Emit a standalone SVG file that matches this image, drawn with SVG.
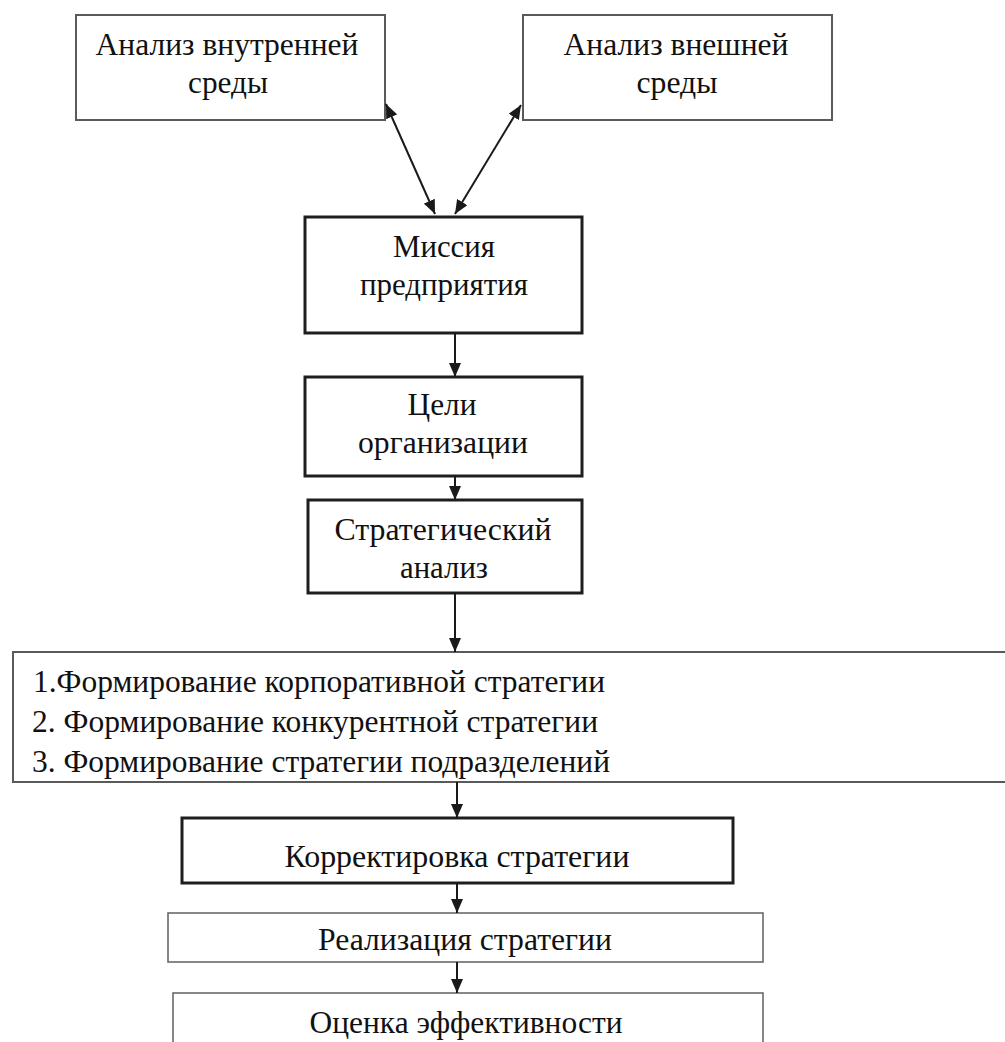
<svg xmlns="http://www.w3.org/2000/svg" width="1005" height="1042" viewBox="0 0 1005 1042">
<style>
  .bg { fill: #ffffff; }
  .box { fill: #ffffff; stroke: #5a5a5a; stroke-width: 2; }
  .dark { fill: #ffffff; stroke: #1e1e1e; stroke-width: 3; }
  .thin { fill: #ffffff; stroke: #6a6a6a; stroke-width: 1.6; }
  text { font-family: 'Liberation Serif', 'DejaVu Serif', 'Times New Roman', serif; font-size: 31px; fill: #111111; }
  .t { text-anchor: middle; }
  .tl { text-anchor: start; }
  .con { stroke: #1a1a1a; stroke-width: 2; fill: none; }
</style>
<defs>
  <marker id="ah" viewBox="0 0 14 12" refX="14" refY="6" markerWidth="14" markerHeight="12" markerUnits="userSpaceOnUse" orient="auto-start-reverse">
    <path d="M0,0 L14,6 L0,12 z" fill="#1a1a1a"/>
  </marker>
</defs>
<rect class="bg" x="0" y="0" width="1005" height="1042"/>

<g id="node-internal">
  <rect class="box" x="76" y="15" width="309" height="105"/>
  <text class="t" x="227" y="55" textLength="263" lengthAdjust="spacingAndGlyphs">Анализ внутренней</text>
  <text class="t" x="228" y="93" textLength="80" lengthAdjust="spacingAndGlyphs">среды</text>
</g>

<g id="node-external">
  <rect class="box" x="523" y="15" width="309" height="105"/>
  <text class="t" x="676" y="55" textLength="225" lengthAdjust="spacingAndGlyphs">Анализ внешней</text>
  <text class="t" x="677" y="93" textLength="81" lengthAdjust="spacingAndGlyphs">среды</text>
</g>

<g id="node-mission">
  <rect class="dark" x="305" y="217" width="277" height="116"/>
  <text class="t" x="444" y="257" textLength="102" lengthAdjust="spacingAndGlyphs">Миссия</text>
  <text class="t" x="444" y="295" textLength="168" lengthAdjust="spacingAndGlyphs">предприятия</text>
</g>

<g id="node-goals">
  <rect class="dark" x="305" y="377" width="277" height="99"/>
  <text class="t" x="442" y="415" textLength="69" lengthAdjust="spacingAndGlyphs">Цели</text>
  <text class="t" x="443" y="453" textLength="170" lengthAdjust="spacingAndGlyphs">организации</text>
</g>

<g id="node-strategic-analysis">
  <rect class="dark" x="308" y="500" width="274" height="93"/>
  <text class="t" x="443" y="540" textLength="217" lengthAdjust="spacingAndGlyphs">Стратегический</text>
  <text class="t" x="444" y="578" textLength="88" lengthAdjust="spacingAndGlyphs">анализ</text>
</g>

<g id="node-formation">
  <rect class="box" x="13" y="652" width="1000" height="130"/>
  <text class="tl" x="33" y="692" textLength="572" lengthAdjust="spacingAndGlyphs">1.Формирование корпоративной стратегии</text>
  <text class="tl" x="32" y="732" textLength="566" lengthAdjust="spacingAndGlyphs">2. Формирование конкурентной стратегии</text>
  <text class="tl" x="32" y="772" textLength="578" lengthAdjust="spacingAndGlyphs">3. Формирование стратегии подразделений</text>
</g>

<g id="node-correction">
  <rect class="dark" x="182" y="818" width="551" height="65"/>
  <text class="t" x="457" y="867" textLength="345" lengthAdjust="spacingAndGlyphs">Корректировка стратегии</text>
</g>

<g id="node-realization">
  <rect class="thin" x="168" y="913" width="595" height="49"/>
  <text class="t" x="465" y="950" textLength="294" lengthAdjust="spacingAndGlyphs">Реализация стратегии</text>
</g>

<g id="node-evaluation">
  <rect class="thin" x="173" y="993" width="590" height="70"/>
  <text class="t" x="466" y="1033" textLength="313" lengthAdjust="spacingAndGlyphs">Оценка эффективности</text>
</g>

<g id="connectors">
  <line class="con" x1="386" y1="104" x2="435" y2="214" marker-start="url(#ah)" marker-end="url(#ah)"/>
  <line class="con" x1="521" y1="105" x2="455" y2="214" marker-start="url(#ah)" marker-end="url(#ah)"/>
  <line class="con" x1="455" y1="333" x2="455" y2="377" marker-end="url(#ah)"/>
  <line class="con" x1="455" y1="476" x2="455" y2="500" marker-end="url(#ah)"/>
  <line class="con" x1="455" y1="593" x2="455" y2="652" marker-end="url(#ah)"/>
  <line class="con" x1="457" y1="782" x2="457" y2="818" marker-end="url(#ah)"/>
  <line class="con" x1="457" y1="883" x2="457" y2="913" marker-end="url(#ah)"/>
  <line class="con" x1="457" y1="962" x2="457" y2="993" marker-end="url(#ah)"/>
</g>
</svg>
